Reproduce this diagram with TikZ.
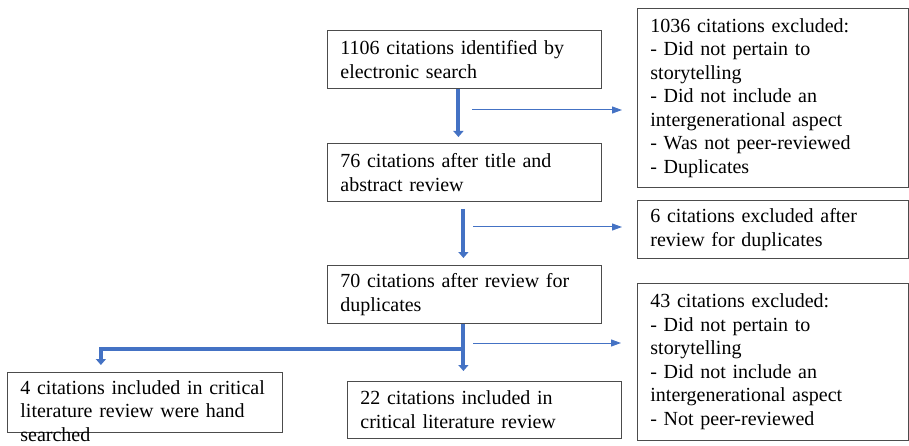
\documentclass[tikz,border=0pt]{standalone}
\usepackage{fontspec}
\setmainfont{LiberationSerif}[Extension=.ttf,UprightFont=*-Regular,BoldFont=*-Bold,ItalicFont=*-Italic,BoldItalicFont=*-BoldItalic]
\usepackage{tikz}
\usetikzlibrary{arrows.meta}
\definecolor{flowblue}{HTML}{4472C4}
\definecolor{boxline}{gray}{0.3}

\begin{document}
\begin{tikzpicture}[x=1pt,y=-1pt]
\tikzstyle{box}=[draw=boxline,line width=0.8pt,rectangle,anchor=north west,align=left,inner xsep=13pt,inner ysep=6pt,font=\fontsize{20}{23.5}\selectfont]
\tikzstyle{mainbox}=[box,text width=248pt,minimum height=58pt]
\tikzstyle{exclbox}=[box,text width=245pt]
\tikzstyle{thickarrow}=[draw=flowblue,line width=4pt,-{Triangle[width=10pt,length=6pt]}]
\tikzstyle{thinarrow}=[draw=flowblue,line width=1pt,-{Triangle[width=7pt,length=10pt]}]
\clip (0,0) rectangle (909,446);
\node [mainbox] at (327,30) (b1) {1106 citations identified by\\electronic search};
\node [mainbox] at (327,143) (b2) {76 citations after title and\\abstract review};
\node [mainbox] at (327,265) (b3) {70 citations after review for\\duplicates};
\node [mainbox,minimum height=57pt] at (347,381) (b4) {22 citations included in\\critical literature review};
\node [box,text width=249pt,inner ysep=8pt,text depth=30pt] at (7,372) (b5) {4 citations included in critical\\literature review were hand\\searched};
\node [exclbox,minimum height=179pt] at (637,8) (e1) {1036 citations excluded:\\- Did not pertain to\\storytelling\\- Did not include an\\intergenerational aspect\\- Was not peer-reviewed\\- Duplicates};
\node [exclbox,minimum height=58pt] at (637,200) (e2) {6 citations excluded after\\review for duplicates};
\node [exclbox,minimum height=157pt] at (637,283) (e3) {43 citations excluded:\\- Did not pertain to\\storytelling\\- Did not include an\\intergenerational aspect\\- Not peer-reviewed};

\coordinate (t1) at (472,110);
\coordinate (t2) at (473,227);
\coordinate (t3) at (473,343);
\coordinate (split) at (463,349);

\draw [thickarrow,shorten >=6pt] ([xshift=-6pt]b1.south) -- ([xshift=-6pt]b2.north);
\draw [thickarrow,shorten <=7pt,shorten >=7pt] ([xshift=-1pt]b2.south) -- ([xshift=-1pt]b3.north);
\draw [thickarrow,shorten >=10pt] ([xshift=-1pt]b3.south) -- ([xshift=-1pt]b3.south |- b4.north);
\draw [thickarrow,shorten >=7pt] (split) -| ([xshift=-44pt]b5.north);
\draw [thinarrow,shorten >=15pt] (t1) -- (t1 -| e1.west);
\draw [thinarrow,shorten >=15pt] (t2) -- (t2 -| e2.west);
\draw [thinarrow,shorten >=16pt] (t3) -- (t3 -| e3.west);
\end{tikzpicture}
\end{document}
